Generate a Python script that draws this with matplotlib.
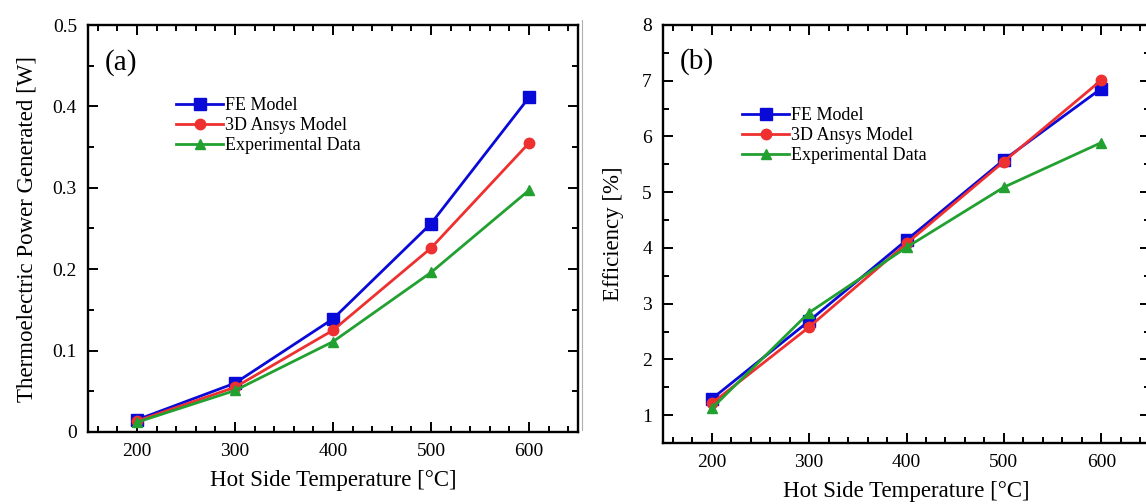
import numpy as np
import matplotlib
matplotlib.use('Agg')
import matplotlib.pyplot as plt
from matplotlib.ticker import MultipleLocator
from matplotlib.lines import Line2D

# data
temps = [200, 300, 400, 500, 600]

power_fe = [0.015, 0.060, 0.139, 0.256, 0.411]
power_ansys = [0.0135, 0.055, 0.125, 0.226, 0.355]
power_exp = [0.012, 0.051, 0.111, 0.196, 0.297]

eff_fe = [1.29, 2.69, 4.14, 5.58, 6.86]
eff_ansys = [1.21, 2.58, 4.08, 5.55, 7.01]
eff_exp = [1.12, 2.84, 4.01, 5.09, 5.89]

labels = ['FE Model', '3D Ansys Model', 'Experimental Data']
colors = ['#0a0ad8', '#ee3030', '#22a030']
markers = ['s', 'o', '^']
msizes = [8.5, 7.5, 6.5]

plt.rcParams['font.family'] = ['Liberation Serif', 'DejaVu Serif']

fig = plt.figure(figsize=(11.46, 5.04), dpi=100)
W, H = 1146., 504.

ax1 = fig.add_axes([88/W, (H-432)/H, 490/W, 407/H])
ax2 = fig.add_axes([663/W, (H-443)/H, 487/W, 418/H])


def style_axes(ax):
    for s in ax.spines.values():
        s.set_linewidth(1.7)
    ax.tick_params(which='both', direction='in', top=True, right=True,
                   labelsize=14, width=1.4)
    ax.tick_params(which='major', length=7, pad=8)
    ax.tick_params(which='minor', length=4)
    ax.xaxis.set_major_locator(MultipleLocator(100))
    ax.xaxis.set_minor_locator(MultipleLocator(20))
    ax.set_xlim(150, 650)


series1 = [power_fe, power_ansys, power_exp]
for ys, lab, c, m, ms in zip(series1, labels, colors, markers, msizes):
    ax1.plot(temps, ys, color=c, marker=m, markersize=ms, lw=2, label=lab)
style_axes(ax1)
ax1.set_ylim(0, 0.5)
ax1.set_yticks([0, 0.1, 0.2, 0.3, 0.4, 0.5])
ax1.set_yticklabels(['0', '0.1', '0.2', '0.3', '0.4', '0.5'])
ax1.yaxis.set_minor_locator(MultipleLocator(0.05))
ax1.set_xlabel('Hot Side Temperature [°C]', fontsize=16.5, labelpad=7)
ax1.set_ylabel('Thermoelectric Power Generated [W]', fontsize=16.5, labelpad=11)
ax1.text(0.035, 0.89, '(a)', transform=ax1.transAxes, fontsize=21)
ax1.legend(loc='upper left', bbox_to_anchor=(0.165, 0.84), frameon=False,
           fontsize=13, handlelength=2.6, handletextpad=0.1, labelspacing=0.16,
           borderaxespad=0)

series2 = [eff_fe, eff_ansys, eff_exp]
for ys, lab, c, m, ms in zip(series2, labels, colors, markers, msizes):
    ax2.plot(temps, ys, color=c, marker=m, markersize=ms, lw=2, label=lab)
style_axes(ax2)
ax2.set_ylim(0.5, 8)
ax2.yaxis.set_major_locator(MultipleLocator(1))
ax2.yaxis.set_minor_locator(MultipleLocator(0.5))
ax2.set_xlabel('Hot Side Temperature [°C]', fontsize=16.5, labelpad=7)
ax2.set_ylabel('Efficiency [%]', fontsize=16.5, labelpad=13)
ax2.text(0.035, 0.895, '(b)', transform=ax2.transAxes, fontsize=21)
ax2.legend(loc='upper left', bbox_to_anchor=(0.148, 0.82), frameon=False,
           fontsize=13, handlelength=2.6, handletextpad=0.1, labelspacing=0.16,
           borderaxespad=0)

# faint divider line between the two panels
fig.add_artist(Line2D([582/W, 582/W], [(H-430)/H, (H-20)/H],
                      transform=fig.transFigure, color='#b0b0b0', lw=0.8))

fig.savefig('out.png', dpi=100)
